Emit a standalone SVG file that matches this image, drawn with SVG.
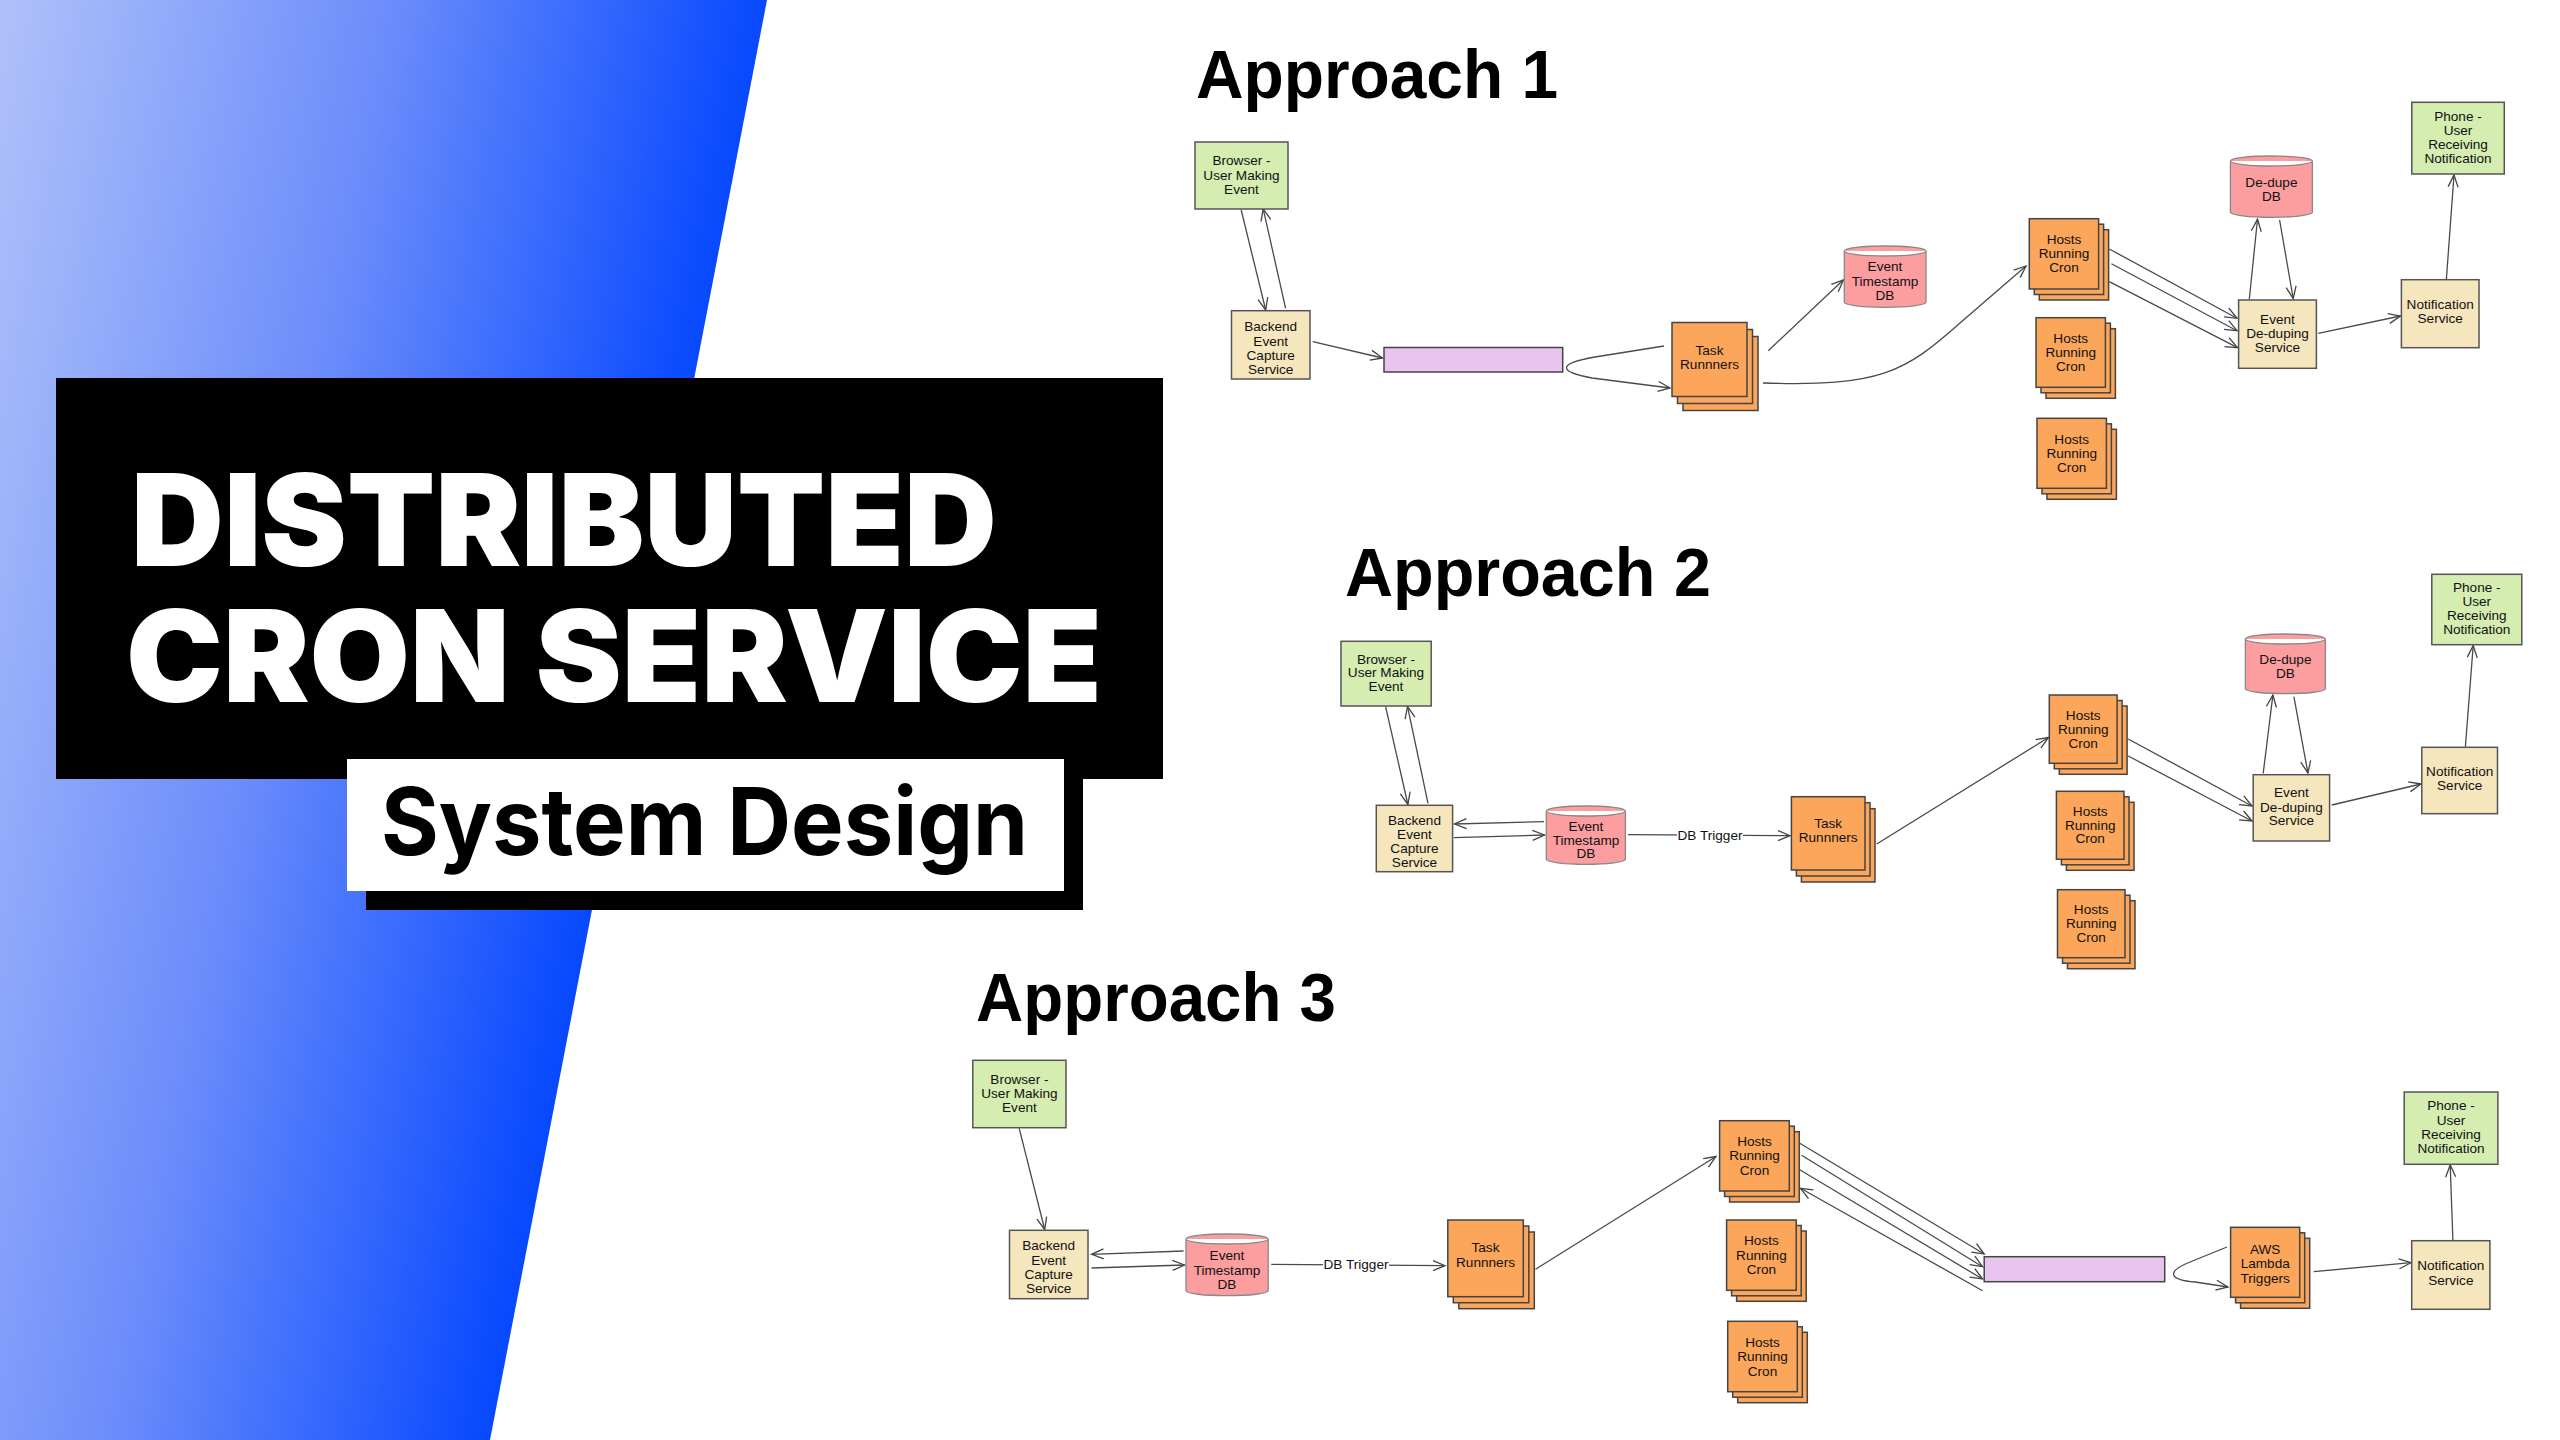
<svg xmlns="http://www.w3.org/2000/svg" width="2560" height="1440" viewBox="0 0 2560 1440">
<defs>
<linearGradient id="bluegrad" gradientUnits="userSpaceOnUse" x1="0" y1="0" x2="767" y2="150">
<stop offset="0" stop-color="#b0c1f9"/>
<stop offset="0.5" stop-color="#6a8cfb"/>
<stop offset="1" stop-color="#0044ff"/>
</linearGradient>
<marker id="arr" markerUnits="userSpaceOnUse" markerWidth="14" markerHeight="12" refX="12" refY="5" orient="auto" overflow="visible">
<path d="M0,0 L12,5 L0,10" fill="none" stroke="#444" stroke-width="1.3"/>
</marker>
</defs>
<style>
.g{fill:#d5edb1;stroke:#555;stroke-width:1.5}
.b{fill:#f6e6bd;stroke:#555;stroke-width:1.5}
.o{fill:#fba65a;stroke:#444;stroke-width:1.5}
.r{fill:#fc9da0;stroke:#888;stroke-width:1.3}
.p{fill:#e8c4ef;stroke:#444;stroke-width:1.5}
.t{font-family:"Liberation Sans",Arial,sans-serif;font-size:13.6px;fill:#111;text-anchor:middle}
.h{font-family:"Liberation Sans",Arial,sans-serif;font-weight:bold;font-size:68px;fill:#000}
.c{fill:none;stroke:#4a4a4a;stroke-width:1.3}
.ca{fill:none;stroke:#4a4a4a;stroke-width:1.3;marker-end:url(#arr)}
.lbl{font-family:"Liberation Sans",Arial,sans-serif;font-size:13.6px;fill:#111;text-anchor:middle}
</style>
<rect x="0" y="0" width="2560" height="1440" fill="#ffffff"/>
<g id="banner">
<polygon points="0,0 767,0 490,1440 0,1440" fill="url(#bluegrad)"/>
<rect x="56" y="378" width="1107" height="401" fill="#000"/>
<text x="131" y="566" font-family="Inter, 'Liberation Sans', sans-serif" font-weight="900" font-size="128" fill="#fff" textLength="866" lengthAdjust="spacingAndGlyphs">DISTRIBUTED</text>
<text x="126" y="702" font-family="Inter, 'Liberation Sans', sans-serif" font-weight="900" font-size="128" fill="#fff" textLength="976" lengthAdjust="spacingAndGlyphs">CRON SERVICE</text>
<rect x="366" y="778" width="717" height="132" fill="#000"/>
<rect x="347" y="759" width="717" height="132" fill="#fff"/>
<text x="381" y="855" font-family="Inter, 'Liberation Sans', sans-serif" font-weight="700" font-size="93" fill="#000" textLength="647" lengthAdjust="spacingAndGlyphs">System Design</text>
</g>
<g id="titles">
<text class="h" x="1196" y="98" textLength="362" lengthAdjust="spacingAndGlyphs">Approach 1</text>
<text class="h" x="1345" y="596" textLength="366" lengthAdjust="spacingAndGlyphs">Approach 2</text>
<text class="h" x="976" y="1021" textLength="360" lengthAdjust="spacingAndGlyphs">Approach 3</text>
</g>
<g id="connectors">
<!-- Approach 1 -->
<path class="ca" d="M1241.2,210 L1265.7,310"/>
<path class="ca" d="M1285.6,308.3 L1263.2,208.8"/>
<path class="ca" d="M1312.7,341.7 L1382.5,358"/>
<path class="ca" d="M1664,346 L1595,357 C1555,364 1560,372 1592,378 L1670,388"/>
<path class="ca" d="M1768.3,350.7 L1843.5,279.8"/>
<path class="ca" d="M1763,383 C1880,387 1905,372 1960,323 L2026,266"/>
<path class="ca" d="M2109.3,249 L2237,318.3"/>
<path class="ca" d="M2111.4,263.7 L2237,330.7"/>
<path class="ca" d="M2109.3,281.7 L2237.5,347.7"/>
<path class="ca" d="M2249.3,299.3 L2257.5,219.3"/>
<path class="ca" d="M2279.6,220 L2293.2,298.5"/>
<path class="ca" d="M2318.2,333.3 L2400.5,316"/>
<path class="ca" d="M2446.4,279 L2454,175"/>
<!-- Approach 2 -->
<path class="ca" d="M1385.6,706.7 L1407.9,804.5"/>
<path class="ca" d="M1428,803.3 L1407.5,706.3"/>
<path class="ca" d="M1544.1,821.7 L1454.5,824"/>
<path class="ca" d="M1453.9,837.7 L1544.5,835"/>
<path class="ca" d="M1628,834.7 L1790,835.7"/>
<rect x="1677" y="825" width="66" height="18" fill="#fff"/>
<text class="lbl" x="1710" y="839.5">DB Trigger</text>
<path class="ca" d="M1876.7,844 L2048.5,737.5"/>
<path class="ca" d="M2128.2,739 L2252,806"/>
<path class="ca" d="M2128.2,756 L2252,821"/>
<path class="ca" d="M2263.2,773.3 L2272.9,695"/>
<path class="ca" d="M2293.9,696.7 L2307.9,773"/>
<path class="ca" d="M2331.8,805 L2421,784"/>
<path class="ca" d="M2465.4,746.7 L2473.2,645.5"/>
<!-- Approach 3 -->
<path class="ca" d="M1019.2,1128.3 L1044.7,1229.5"/>
<path class="ca" d="M1183.5,1251 L1091.6,1254.3"/>
<path class="ca" d="M1091.6,1268 L1184.5,1265"/>
<path class="ca" d="M1271.2,1264.3 L1445,1265.7"/>
<rect x="1323" y="1255" width="66" height="18" fill="#fff"/>
<text class="lbl" x="1356" y="1269.3">DB Trigger</text>
<path class="ca" d="M1535.5,1269.3 L1716,1156.5"/>
<path class="ca" d="M1798.9,1142.7 L1984.2,1254"/>
<path class="ca" d="M1801.6,1155.3 L1982.5,1266.7"/>
<path class="ca" d="M1798.9,1169.3 L1982.5,1279"/>
<path class="ca" d="M1982.6,1290.7 L1800.5,1188.3"/>
<path class="ca" d="M2227,1247 L2190,1262 C2165,1272 2170,1280 2195,1282 L2228,1287"/>
<path class="ca" d="M2313.6,1271.7 L2411,1262.7"/>
<path class="ca" d="M2452.9,1240 L2450.2,1165"/>
</g>
<!-- ===== Approach 1 nodes ===== -->
<g id="a1-browser"><rect class="g" x="1195" y="142" width="93" height="67"/><text class="t" x="1241.5" y="165.4">Browser -</text><text class="t" x="1241.5" y="179.7">User Making</text><text class="t" x="1241.5" y="194">Event</text></g>
<g id="a1-backend"><rect class="b" x="1231.5" y="310.7" width="78.5" height="68.3"/><text class="t" x="1270.7" y="331.4">Backend</text><text class="t" x="1270.7" y="345.7">Event</text><text class="t" x="1270.7" y="360">Capture</text><text class="t" x="1270.7" y="374">Service</text></g>
<g id="a1-queue"><rect class="p" x="1384" y="347.5" width="178.7" height="24.5"/></g>
<g id="a1-task"><rect class="o" x="1683" y="336.5" width="75" height="74"/><rect class="o" x="1677.5" y="329.5" width="75" height="74"/><rect class="o" x="1672" y="322.5" width="75" height="74"/><text class="t" x="1709.5" y="354.7">Task</text><text class="t" x="1709.5" y="369">Runnners</text></g>
<g id="a1-tsdb"><path class="r" d="M1844.3,251 A40.85,5 0 0 1 1926,251 V302.3 A40.85,5 0 0 1 1844.3,302.3 Z M1844.3,251 A40.85,5 0 0 0 1926,251"/><text class="t" x="1885" y="271.4">Event</text><text class="t" x="1885" y="286.4">Timestamp</text><text class="t" x="1885" y="299.7">DB</text></g>
<g id="a1-hosts1"><rect class="o" x="2039.3" y="229.7" width="69.3" height="70.3"/><rect class="o" x="2034.3" y="224.2" width="69.3" height="70.3"/><rect class="o" x="2029.3" y="218.7" width="69.3" height="70.3"/><text class="t" x="2064" y="243.7">Hosts</text><text class="t" x="2064" y="258">Running</text><text class="t" x="2064" y="272.4">Cron</text></g>
<g id="a1-hosts2"><rect class="o" x="2046" y="328.7" width="69.4" height="69.6"/><rect class="o" x="2041" y="323.2" width="69.4" height="69.6"/><rect class="o" x="2036" y="317.7" width="69.4" height="69.6"/><text class="t" x="2070.7" y="342.7">Hosts</text><text class="t" x="2070.7" y="357">Running</text><text class="t" x="2070.7" y="371.4">Cron</text></g>
<g id="a1-hosts3"><rect class="o" x="2047" y="429.3" width="69.4" height="70"/><rect class="o" x="2042" y="423.8" width="69.4" height="70"/><rect class="o" x="2037" y="418.3" width="69.4" height="70"/><text class="t" x="2071.7" y="443.7">Hosts</text><text class="t" x="2071.7" y="458">Running</text><text class="t" x="2071.7" y="472">Cron</text></g>
<g id="a1-dedupedb"><path class="r" d="M2230.4,161 A41,5 0 0 1 2312.4,161 V212.3 A41,5 0 0 1 2230.4,212.3 Z M2230.4,161 A41,5 0 0 0 2312.4,161"/><text class="t" x="2271.4" y="187">De-dupe</text><text class="t" x="2271.4" y="201.4">DB</text></g>
<g id="a1-dedup"><rect class="b" x="2238.6" y="300" width="77.8" height="68.3"/><text class="t" x="2277.5" y="323.7">Event</text><text class="t" x="2277.5" y="338">De-duping</text><text class="t" x="2277.5" y="352">Service</text></g>
<g id="a1-notif"><rect class="b" x="2401.4" y="279.7" width="77.6" height="68"/><text class="t" x="2440.2" y="309">Notification</text><text class="t" x="2440.2" y="323.4">Service</text></g>
<g id="a1-phone"><rect class="g" x="2411.8" y="102.3" width="92.5" height="71.7"/><text class="t" x="2458" y="120.7">Phone -</text><text class="t" x="2458" y="134.7">User</text><text class="t" x="2458" y="149">Receiving</text><text class="t" x="2458" y="163">Notification</text></g>
<!-- ===== Approach 2 nodes ===== -->
<g id="a2-browser"><rect class="g" x="1341" y="641.3" width="90.2" height="64.7"/><text class="t" x="1386" y="663.7">Browser -</text><text class="t" x="1386" y="677.4">User Making</text><text class="t" x="1386" y="691.4">Event</text></g>
<g id="a2-backend"><rect class="b" x="1376.3" y="805.3" width="76.3" height="66.4"/><text class="t" x="1414.5" y="825.4">Backend</text><text class="t" x="1414.5" y="839.4">Event</text><text class="t" x="1414.5" y="853.4">Capture</text><text class="t" x="1414.5" y="867.4">Service</text></g>
<g id="a2-tsdb"><path class="r" d="M1546.3,811 A39.55,5 0 0 1 1625.4,811 V859.3 A39.55,5 0 0 1 1546.3,859.3 Z M1546.3,811 A39.55,5 0 0 0 1625.4,811"/><text class="t" x="1586" y="831.4">Event</text><text class="t" x="1586" y="844.7">Timestamp</text><text class="t" x="1586" y="858">DB</text></g>
<g id="a2-task"><rect class="o" x="1801.4" y="808.7" width="73.6" height="73.3"/><rect class="o" x="1796.4" y="802.7" width="73.6" height="73.3"/><rect class="o" x="1791.4" y="796.7" width="73.6" height="73.3"/><text class="t" x="1828.2" y="828">Task</text><text class="t" x="1828.2" y="842">Runnners</text></g>
<g id="a2-hosts1"><rect class="o" x="2059.3" y="706" width="67.8" height="68.3"/><rect class="o" x="2054.3" y="700.5" width="67.8" height="68.3"/><rect class="o" x="2049.3" y="695" width="67.8" height="68.3"/><text class="t" x="2083.2" y="719.7">Hosts</text><text class="t" x="2083.2" y="733.7">Running</text><text class="t" x="2083.2" y="747.7">Cron</text></g>
<g id="a2-hosts2"><rect class="o" x="2066.4" y="802.3" width="67.6" height="68"/><rect class="o" x="2061.4" y="796.8" width="67.6" height="68"/><rect class="o" x="2056.4" y="791.3" width="67.6" height="68"/><text class="t" x="2090.2" y="815.7">Hosts</text><text class="t" x="2090.2" y="829.7">Running</text><text class="t" x="2090.2" y="843.4">Cron</text></g>
<g id="a2-hosts3"><rect class="o" x="2067.5" y="900.7" width="67.5" height="68"/><rect class="o" x="2062.5" y="895.2" width="67.5" height="68"/><rect class="o" x="2057.5" y="889.7" width="67.5" height="68"/><text class="t" x="2091.2" y="914">Hosts</text><text class="t" x="2091.2" y="928">Running</text><text class="t" x="2091.2" y="941.7">Cron</text></g>
<g id="a2-dedupedb"><path class="r" d="M2245.4,639 A40,5 0 0 1 2325.4,639 V688.7 A40,5 0 0 1 2245.4,688.7 Z M2245.4,639 A40,5 0 0 0 2325.4,639"/><text class="t" x="2285.4" y="664.4">De-dupe</text><text class="t" x="2285.4" y="678">DB</text></g>
<g id="a2-dedup"><rect class="b" x="2253.2" y="774.7" width="76.4" height="66.3"/><text class="t" x="2291.4" y="797.4">Event</text><text class="t" x="2291.4" y="811.7">De-duping</text><text class="t" x="2291.4" y="825">Service</text></g>
<g id="a2-notif"><rect class="b" x="2421.8" y="747.3" width="75.7" height="66.4"/><text class="t" x="2459.7" y="776">Notification</text><text class="t" x="2459.7" y="790">Service</text></g>
<g id="a2-phone"><rect class="g" x="2431.8" y="574.3" width="90" height="70.4"/><text class="t" x="2476.8" y="592.4">Phone -</text><text class="t" x="2476.8" y="606.4">User</text><text class="t" x="2476.8" y="620.4">Receiving</text><text class="t" x="2476.8" y="634">Notification</text></g>
<!-- ===== Approach 3 nodes ===== -->
<g id="a3-browser"><rect class="g" x="972.8" y="1060.3" width="93.2" height="67.4"/><text class="t" x="1019.4" y="1084">Browser -</text><text class="t" x="1019.4" y="1098">User Making</text><text class="t" x="1019.4" y="1112.4">Event</text></g>
<g id="a3-backend"><rect class="b" x="1009.5" y="1230.3" width="78.5" height="68.4"/><text class="t" x="1048.7" y="1250.4">Backend</text><text class="t" x="1048.7" y="1264.7">Event</text><text class="t" x="1048.7" y="1279">Capture</text><text class="t" x="1048.7" y="1293.4">Service</text></g>
<g id="a3-tsdb"><path class="r" d="M1186,1239 A41.1,5 0 0 1 1268.2,1239 V1290.7 A41.1,5 0 0 1 1186,1290.7 Z M1186,1239 A41.1,5 0 0 0 1268.2,1239"/><text class="t" x="1227" y="1260.4">Event</text><text class="t" x="1227" y="1274.7">Timestamp</text><text class="t" x="1227" y="1289">DB</text></g>
<g id="a3-task"><rect class="o" x="1458.8" y="1232" width="75.5" height="76.7"/><rect class="o" x="1453.3" y="1226" width="75.5" height="76.7"/><rect class="o" x="1447.8" y="1220" width="75.5" height="76.7"/><text class="t" x="1485.5" y="1252.4">Task</text><text class="t" x="1485.5" y="1266.7">Runnners</text></g>
<g id="a3-hosts1"><rect class="o" x="1729.6" y="1131.7" width="69.7" height="70.3"/><rect class="o" x="1724.6" y="1126.2" width="69.7" height="70.3"/><rect class="o" x="1719.6" y="1120.7" width="69.7" height="70.3"/><text class="t" x="1754.5" y="1146">Hosts</text><text class="t" x="1754.5" y="1160.4">Running</text><text class="t" x="1754.5" y="1174.7">Cron</text></g>
<g id="a3-hosts2"><rect class="o" x="1736.6" y="1231" width="69.6" height="70.3"/><rect class="o" x="1731.6" y="1225.5" width="69.6" height="70.3"/><rect class="o" x="1726.6" y="1220" width="69.6" height="70.3"/><text class="t" x="1761.4" y="1245.4">Hosts</text><text class="t" x="1761.4" y="1259.7">Running</text><text class="t" x="1761.4" y="1274">Cron</text></g>
<g id="a3-hosts3"><rect class="o" x="1737.7" y="1332.3" width="69.6" height="70.4"/><rect class="o" x="1732.7" y="1326.8" width="69.6" height="70.4"/><rect class="o" x="1727.7" y="1321.3" width="69.6" height="70.4"/><text class="t" x="1762.5" y="1347">Hosts</text><text class="t" x="1762.5" y="1361.4">Running</text><text class="t" x="1762.5" y="1375.7">Cron</text></g>
<g id="a3-queue"><rect class="p" x="1984.2" y="1256.7" width="180.5" height="25"/></g>
<g id="a3-lambda"><rect class="o" x="2240.6" y="1238.3" width="69.1" height="70"/><rect class="o" x="2235.6" y="1232.8" width="69.1" height="70"/><rect class="o" x="2230.6" y="1227.3" width="69.1" height="70"/><text class="t" x="2265.2" y="1254">AWS</text><text class="t" x="2265.2" y="1268.4">Lambda</text><text class="t" x="2265.2" y="1282.7">Triggers</text></g>
<g id="a3-notif"><rect class="b" x="2411.7" y="1240.7" width="78.2" height="68.6"/><text class="t" x="2450.8" y="1270.4">Notification</text><text class="t" x="2450.8" y="1284.7">Service</text></g>
<g id="a3-phone"><rect class="g" x="2404.2" y="1092" width="93.7" height="72.3"/><text class="t" x="2451" y="1110.4">Phone -</text><text class="t" x="2451" y="1124.7">User</text><text class="t" x="2451" y="1139">Receiving</text><text class="t" x="2451" y="1153.4">Notification</text></g>
</svg>
